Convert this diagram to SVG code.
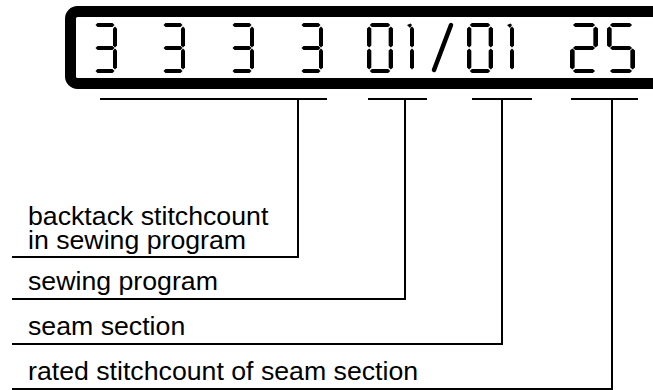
<svg xmlns="http://www.w3.org/2000/svg" xmlns:xlink="http://www.w3.org/1999/xlink" width="653" height="390" viewBox="0 0 653 390">
<style>
.lbl{font-family:"Liberation Sans",Arial,sans-serif;font-size:26.7px;fill:#000}
.ln{fill:none;stroke:#000;stroke-width:2}
.seg{fill:#000}
</style>
<defs>
<path id="h" class="seg" d="M0,0 L2,-2 L17,-2 L19,0 L17,2 L2,2 Z"/>
<path id="v" class="seg" d="M0,0 L2,2 L2,19 L0,21 L-2,19 L-2,2 Z"/>
<g id="d3"><use href="#h" x="2.5" y="2"/><use href="#v" x="22" y="3.5"/><use href="#h" x="2.5" y="25"/><use href="#v" x="22" y="25.5"/><use href="#h" x="2.5" y="48"/></g>
<g id="d0"><use href="#h" x="2.5" y="2"/><use href="#v" x="2" y="3.5"/><use href="#v" x="22" y="3.5"/><use href="#v" x="2" y="25.5"/><use href="#v" x="22" y="25.5"/><use href="#h" x="2.5" y="48"/></g>
<g id="d1"><use href="#v" x="22" y="3.5"/><use href="#v" x="22" y="25.5"/><path class="seg" d="M17,2 L20.5,0.5 L22,2 L20,5 Z"/></g>
<g id="d2"><use href="#h" x="2.5" y="2"/><use href="#v" x="22" y="3.5"/><use href="#h" x="2.5" y="25"/><use href="#v" x="2" y="25.5"/><use href="#h" x="2.5" y="48"/></g>
<g id="d5"><use href="#h" x="2.5" y="2"/><use href="#v" x="2" y="3.5"/><use href="#h" x="2.5" y="25"/><use href="#v" x="22" y="25.5"/><use href="#h" x="2.5" y="48"/></g>
</defs>
<rect width="653" height="390" fill="#fff"/>
<g id="display">
<rect x="70.5" y="11.5" width="700" height="72" rx="7" fill="none" stroke="#000" stroke-width="11"/>
<use href="#d3" transform="translate(93,23)"/>
<use href="#d3" transform="translate(161,23)"/>
<use href="#d3" transform="translate(230,23)"/>
<use href="#d3" transform="translate(299,23)"/>
<use href="#d0" transform="translate(367,23) scale(1.083,1)"/>
<use href="#d1" transform="translate(390,23)"/>
<line x1="451" y1="25" x2="434" y2="70" stroke="#000" stroke-width="4.5" stroke-linecap="round"/>
<use href="#d0" transform="translate(467,23) scale(1.083,1)"/>
<use href="#d1" transform="translate(490,23)"/>
<use href="#d2" transform="translate(570,23) scale(1.167,1)"/>
<use href="#d5" transform="translate(607,23) scale(1.167,1)"/>
</g>
<g id="connectors">
<path class="ln" d="M100,99 H327 M298,99 V257 H12"/>
<path class="ln" d="M368,99 H427 M405,99 V299 H12"/>
<path class="ln" d="M472,99 H532 M502,99 V344 H12"/>
<path class="ln" d="M571,99 H638 M612,99 V390 M612,389 H12"/>
</g>
<g id="label-backtack"><text class="lbl" x="28" y="225">backtack stitchcount</text><text class="lbl" x="28" y="249">in sewing program</text></g>
<g id="label-program"><text class="lbl" x="28" y="290">sewing program</text></g>
<g id="label-section"><text class="lbl" x="28" y="335">seam section</text></g>
<g id="label-rated"><text class="lbl" x="28" y="380">rated stitchcount of seam section</text></g>
</svg>
